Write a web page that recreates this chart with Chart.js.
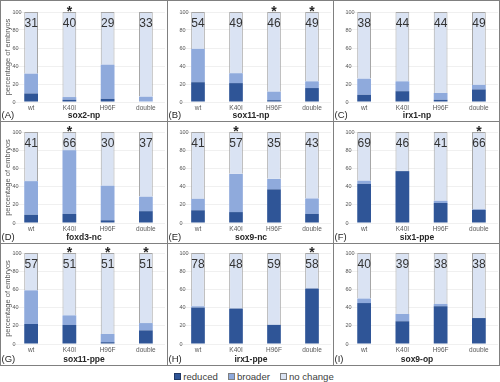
<!DOCTYPE html>
<html>
<head>
<meta charset="utf-8">
<script src="https://cdn.jsdelivr.net/npm/chart.js@4.4.1/dist/chart.umd.min.js"></script>
<style>
  html, body { margin:0; padding:0; background:#fff; }
  #wrap { position:relative; width:500px; height:382px; overflow:hidden; font-family:"Liberation Sans", Arial, sans-serif; }
  canvas { position:absolute; }
  .line { position:absolute; background:#808080; }
  #legend { position:absolute; left:0; top:369px; width:500px; height:14px; display:flex; justify-content:center; align-items:center; font-size:9.6px; color:#404040; padding-left:8px; box-sizing:border-box; }
  .item { display:flex; align-items:center; margin:0 5px; }
  .sw { width:5px; height:5px; margin-right:2px; border:1px solid #7f7f7f; }
</style>
</head>
<body>
<div id="wrap">
  <div id="legend"></div>
</div>
<script>
const categories = ['wt', 'K40I', 'H96F', 'double'];
const panelLetters = ['(A)', '(B)', '(C)', '(D)', '(E)', '(F)', '(G)', '(H)', '(I)'];
const panelTitles = ['sox2-np', 'sox11-np', 'irx1-np', 'foxd3-nc', 'sox9-nc', 'six1-ppe', 'sox11-ppe', 'irx1-ppe', 'sox9-op'];
const seriesNames = ['reduced', 'broader', 'no change'];
const yTicks = [0, 20, 40, 60, 80, 100];
const yTitle = 'percentage of embryos';

const reduced = [
  [9.5, 2.5, 3.5, 0],
  [22, 21, 2, 15.5],
  [8, 12, 2.5, 14],
  [9, 10, 3, 13],
  [14, 12, 37, 10],
  [43, 57, 22, 14.5],
  [22, 21, 2, 15],
  [40, 39, 21, 61],
  [45, 25, 41.5, 28.5]
];
const broader = [
  [22, 3, 38, 6],
  [37, 11, 9.5, 7.5],
  [18, 11, 7.5, 5],
  [37, 70, 38, 16],
  [12.5, 42, 11.5, 17],
  [3.5, 0, 2.5, 0.7],
  [37, 10.5, 9, 8],
  [1.5, 0, 0, 0],
  [5, 8, 2.5, 0]
];
const noChange = [
  [68.5, 94.5, 58.5, 94],
  [41, 68, 88.5, 77],
  [74, 77, 90, 81],
  [54, 20, 59, 71],
  [73.5, 46, 51.5, 73],
  [53.5, 43, 75.5, 84.8],
  [41, 68.5, 89, 77],
  [58.5, 61, 79, 39],
  [50, 67, 56, 71.5]
];
const sampleSizes = [
  [31, 40, 29, 33],
  [54, 49, 46, 49],
  [38, 44, 44, 49],
  [41, 66, 30, 37],
  [41, 57, 35, 43],
  [69, 46, 41, 66],
  [57, 51, 51, 51],
  [78, 48, 59, 58],
  [40, 39, 38, 38]
];
const significant = [
  [0, 1, 0, 0],
  [0, 0, 1, 1],
  [0, 0, 0, 0],
  [0, 1, 0, 0],
  [0, 1, 0, 0],
  [0, 0, 0, 1],
  [0, 1, 1, 1],
  [0, 0, 0, 1],
  [0, 0, 0, 0]
];

const colors = ['#2F5597', '#8FAADC', '#DAE3F3'];
const FONT = '"Liberation Sans", Arial, sans-serif';

const colLeft = [0, 167, 333];
const colW = [167, 166, 167];
const rowTop = [0, 121, 243];
const rowH = [121, 122, 122];

const wrap = document.getElementById('wrap');

const annot = {
  id: 'annot',
  afterDatasetsDraw(chart, args, opts) {
    const p = opts.panel;
    const ctx = chart.ctx;
    const xs = chart.scales.x, ys = chart.scales.y;
    const yTop = ys.getPixelForValue(100);
    ctx.save();
    ctx.textAlign = 'center';
    for (let i = 0; i < categories.length; i++) {
      const x = xs.getPixelForValue(i);
      ctx.fillStyle = '#333333';
      ctx.font = '12px ' + FONT;
      ctx.textBaseline = 'middle';
      ctx.fillText(String(sampleSizes[p][i]), x, yTop + 11.5);
      if (significant[p][i]) {
        ctx.font = 'bold 14px ' + FONT;
        ctx.textBaseline = 'alphabetic';
        ctx.fillStyle = '#262626';
        ctx.fillText('*', x, yTop + 3.5);
      }
    }
    const h = chart.height;
    ctx.textBaseline = 'middle';
    ctx.textAlign = 'left';
    ctx.fillStyle = '#262626';
    ctx.font = '9.5px ' + FONT;
    ctx.fillText(panelLetters[p], 1.5, h - 5.5);
    ctx.textAlign = 'center';
    ctx.font = 'bold 8.5px ' + FONT;
    ctx.fillText(panelTitles[p], 84, h - 5.5);
    if (p % 3 === 0) {
      ctx.save();
      ctx.translate(7.5, (ys.top + ys.bottom) / 2);
      ctx.rotate(-Math.PI / 2);
      ctx.font = '7.5px ' + FONT;
      ctx.fillStyle = '#595959';
      ctx.textAlign = 'center';
      ctx.textBaseline = 'middle';
      ctx.fillText(yTitle, 0, 0);
      ctx.restore();
    }
    ctx.restore();
  }
};

for (let p = 0; p < 9; p++) {
  const r = Math.floor(p / 3), c = p % 3;
  const cv = document.createElement('canvas');
  cv.width = colW[c]; cv.height = rowH[r];
  cv.style.left = colLeft[c] + 'px';
  cv.style.top = rowTop[r] + 'px';
  cv.style.width = colW[c] + 'px';
  cv.style.height = rowH[r] + 'px';
  wrap.appendChild(cv);
  const topPad = r === 0 ? 12 : (r === 1 ? 11 : 10);
  const bottomPad = rowH[r] - 10 - (r === 0 ? 102 : (r === 1 ? 102 : 101)) ;
  new Chart(cv, {
    type: 'bar',
    data: {
      labels: categories,
      datasets: [
        { label: seriesNames[0], data: reduced[p], backgroundColor: colors[0], borderWidth: 0 },
        { label: seriesNames[1], data: broader[p], backgroundColor: colors[1], borderWidth: 0 },
        { label: seriesNames[2], data: noChange[p], backgroundColor: colors[2], borderColor: '#A6A6A6', borderWidth: 1 }
      ]
    },
    options: {
      responsive: false,
      animation: false,
      devicePixelRatio: 1,
      categoryPercentage: 1,
      barPercentage: 0.36,
      layout: { padding: { left: 12, right: 2, top: topPad, bottom: bottomPad } },
      plugins: { legend: { display: false }, tooltip: { enabled: false }, annot: { panel: p } },
      scales: {
        x: {
          stacked: true,
          grid: { display: false, drawTicks: false },
          border: { display: false },
          ticks: { font: { size: 6.5, family: FONT }, color: '#595959', padding: 2, maxRotation: 0, autoSkip: false },
          afterFit(s) { s.height = 10; }
        },
        y: {
          stacked: true,
          min: 0, max: 100,
          afterBuildTicks(s) { s.ticks = yTicks.map(v => ({ value: v })); },
          grid: { color: '#F0F0F0', drawTicks: false },
          border: { display: false },
          ticks: { font: { size: 5.5, family: FONT }, color: '#595959', mirror: true, padding: 0.5 },
          afterFit(s) { s.width = 0; }
        }
      }
    },
    plugins: [annot]
  });
}

// panel frame lines
function line(x, y, w, h) {
  const d = document.createElement('div');
  d.className = 'line';
  d.style.left = x + 'px'; d.style.top = y + 'px';
  d.style.width = w + 'px'; d.style.height = h + 'px';
  wrap.appendChild(d);
}
line(0, 0, 500, 1);
line(0, 121, 500, 1);
line(0, 243, 500, 1);
line(0, 365, 500, 1);
line(0, 0, 1, 366);
line(167, 0, 1, 366);
line(333, 0, 1, 366);
line(499, 0, 1, 366);

// legend
const lg = document.getElementById('legend');
seriesNames.forEach((n, i) => {
  const it = document.createElement('div');
  it.className = 'item';
  const sw = document.createElement('div');
  sw.className = 'sw';
  sw.style.background = colors[i];
  if (i === 0) sw.style.borderColor = '#203864';
  const t = document.createElement('span');
  t.textContent = n;
  it.appendChild(sw); it.appendChild(t);
  lg.appendChild(it);
});
</script>
</body>
</html>
